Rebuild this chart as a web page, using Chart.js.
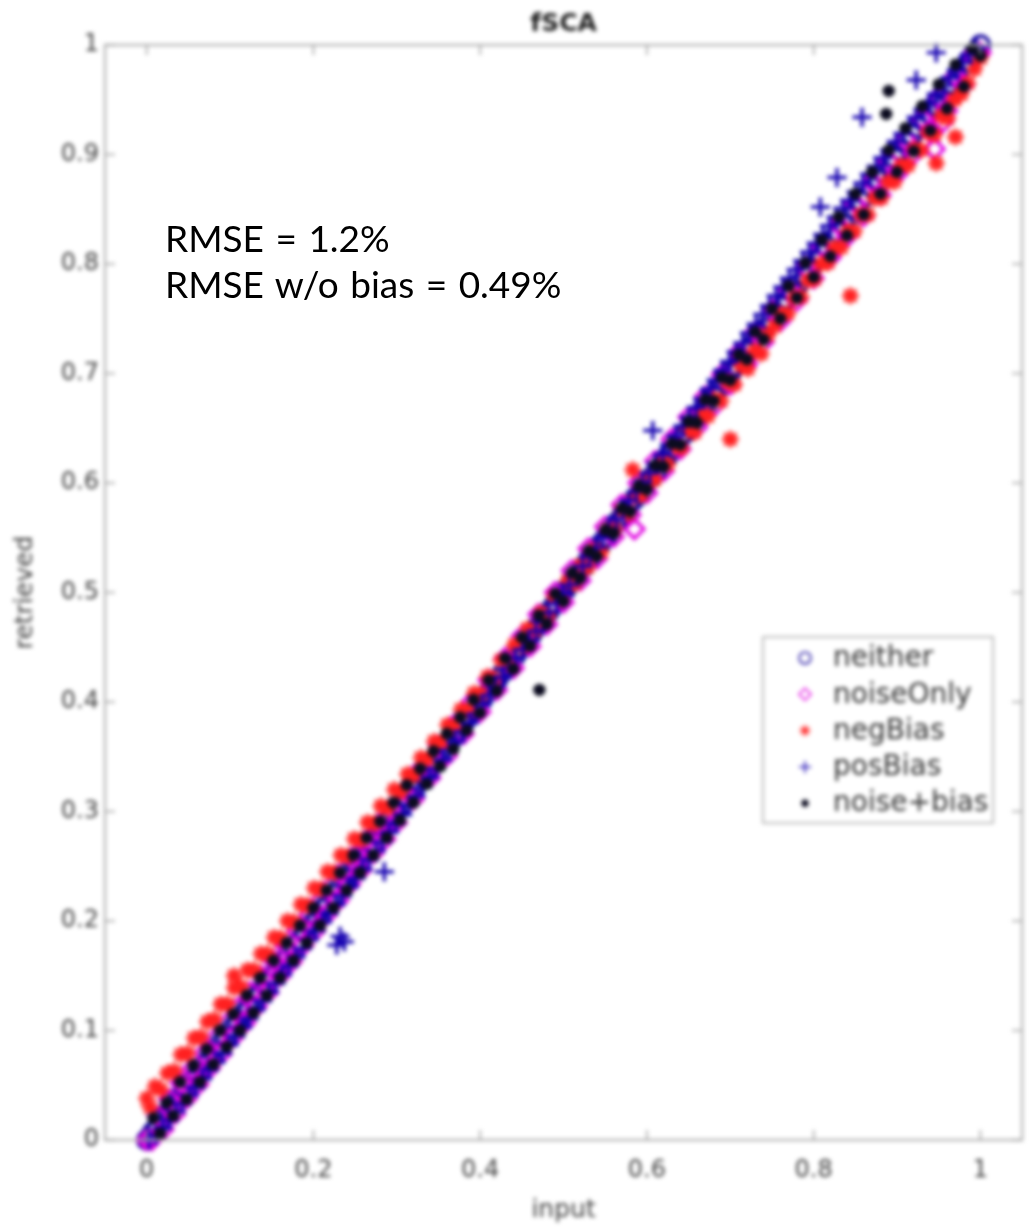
<!DOCTYPE html>
<html>
<head>
<meta charset="utf-8">
<script src="https://cdn.jsdelivr.net/npm/chart.js@4.4.1/dist/chart.umd.min.js"></script>
<style>
  html, body { margin: 0; padding: 0; background: #fff; }
  #wrap { position: relative; width: 1035px; height: 1227px; overflow: hidden; }
  #plot { display: block; filter: blur(2px); }
  #stats {
    position: absolute; left: 165px; top: 215px;
    font-family: Lato, "Open Sans", sans-serif; font-size: 37px; line-height: 46px;
    word-spacing: 2px; color: #000; white-space: nowrap;
  }
</style>
</head>
<body>
<div id="wrap">
  <canvas id="plot" width="1035" height="1227"></canvas>
  <div id="stats"></div>
</div>
<script>
// fSCA retrieval test: retrieved vs. input for five perturbation cases
const titleText = 'fSCA';
const xLabel = 'input';
const yLabel = 'retrieved';
const seriesNames = ['neither', 'noiseOnly', 'negBias', 'posBias', 'noise+bias'];
const statsLines = ['RMSE = 1.2%', 'RMSE w/o bias = 0.49%'];
const xTicks = [0, 0.2, 0.4, 0.6, 0.8, 1];
const yTicks = [0, 0.1, 0.2, 0.3, 0.4, 0.5, 0.6, 0.7, 0.8, 0.9, 1];

// [input, retrieved]
const neither = [
  [0,0],[0.007,0.007],[0.013,0.013],[0.02,0.02],[0.027,0.027],[0.034,0.034],[0.041,0.041],[0.047,0.047],
  [0.054,0.054],[0.061,0.061],[0.068,0.068],[0.075,0.075],[0.081,0.081],[0.088,0.088],[0.095,0.095],
  [0.102,0.102],[0.109,0.109],[0.115,0.115],[0.122,0.122],[0.129,0.129],[0.136,0.136],[0.143,0.143],
  [0.149,0.149],[0.156,0.156],[0.163,0.163],[0.17,0.17],[0.177,0.177],[0.183,0.183],[0.19,0.19],
  [0.197,0.197],[0.204,0.204],[0.211,0.211],[0.217,0.217],[0.224,0.224],[0.231,0.231],[0.238,0.238],
  [0.245,0.245],[0.251,0.251],[0.258,0.258],[0.265,0.265],[0.272,0.272],[0.279,0.279],[0.285,0.285],
  [0.292,0.292],[0.299,0.299],[0.306,0.306],[0.313,0.313],[0.319,0.319],[0.326,0.326],[0.333,0.333],
  [0.34,0.34],[0.347,0.347],[0.353,0.353],[0.36,0.36],[0.367,0.367],[0.374,0.374],[0.381,0.381],
  [0.387,0.387],[0.394,0.394],[0.401,0.401],[0.408,0.408],[0.415,0.415],[0.421,0.421],[0.428,0.428],
  [0.435,0.435],[0.442,0.442],[0.449,0.449],[0.455,0.455],[0.462,0.462],[0.469,0.469],[0.476,0.476],
  [0.483,0.483],[0.489,0.489],[0.496,0.496],[0.503,0.503],[0.51,0.51],[0.517,0.517],[0.523,0.523],
  [0.53,0.53],[0.537,0.537],[0.544,0.544],[0.551,0.551],[0.557,0.557],[0.564,0.564],[0.571,0.571],
  [0.578,0.578],[0.585,0.585],[0.591,0.591],[0.598,0.598],[0.605,0.605],[0.612,0.612],[0.619,0.619],
  [0.625,0.625],[0.632,0.632],[0.639,0.639],[0.646,0.646],[0.653,0.653],[0.659,0.659],[0.666,0.666],
  [0.673,0.673],[0.68,0.68],[0.687,0.687],[0.693,0.693],[0.7,0.7],[0.707,0.707],[0.714,0.714],
  [0.721,0.721],[0.727,0.727],[0.734,0.734],[0.741,0.741],[0.748,0.748],[0.755,0.755],[0.761,0.761],
  [0.768,0.768],[0.775,0.775],[0.782,0.782],[0.789,0.789],[0.795,0.795],[0.802,0.802],[0.809,0.809],
  [0.816,0.816],[0.823,0.823],[0.829,0.829],[0.836,0.836],[0.843,0.843],[0.85,0.85],[0.857,0.857],
  [0.863,0.863],[0.87,0.87],[0.877,0.877],[0.884,0.884],[0.891,0.891],[0.897,0.897],[0.904,0.904],
  [0.911,0.911],[0.918,0.918],[0.925,0.925],[0.931,0.931],[0.938,0.938],[0.945,0.945],[0.952,0.952],
  [0.959,0.959],[0.965,0.965],[0.972,0.972],[0.979,0.979],[0.986,0.986],[0.993,0.993],[1,1]
];
const noiseOnly = [
  [0,0],[0.006,0],[0.013,0.022],[0.02,0.01],[0.027,0.037],[0.034,0.024],[0.041,0.052],[0.048,0.038],
  [0.055,0.065],[0.062,0.051],[0.069,0.079],[0.076,0.066],[0.083,0.093],[0.09,0.079],[0.097,0.107],
  [0.104,0.094],[0.111,0.121],[0.118,0.107],[0.125,0.135],[0.132,0.122],[0.139,0.149],[0.146,0.135],
  [0.153,0.163],[0.16,0.15],[0.167,0.177],[0.174,0.163],[0.181,0.191],[0.188,0.178],[0.195,0.205],
  [0.202,0.191],[0.209,0.219],[0.216,0.206],[0.223,0.233],[0.23,0.219],[0.237,0.247],[0.244,0.234],
  [0.251,0.261],[0.258,0.247],[0.265,0.275],[0.272,0.262],[0.279,0.289],[0.286,0.275],[0.293,0.303],
  [0.3,0.29],[0.31,0.32],[0.32,0.311],[0.33,0.34],[0.34,0.331],[0.35,0.36],[0.36,0.351],
  [0.37,0.38],[0.38,0.371],[0.39,0.4],[0.4,0.391],[0.41,0.42],[0.42,0.411],[0.43,0.44],
  [0.44,0.431],[0.45,0.46],[0.46,0.451],[0.47,0.48],[0.48,0.471],[0.49,0.5],[0.5,0.491],
  [0.51,0.52],[0.52,0.511],[0.53,0.54],[0.54,0.531],[0.55,0.56],[0.56,0.551],[0.57,0.58],
  [0.58,0.571],[0.585,0.558],[0.59,0.6],[0.6,0.591],[0.61,0.62],[0.62,0.611],[0.63,0.64],
  [0.64,0.631],[0.65,0.66],[0.66,0.651],[0.67,0.679],[0.68,0.67],[0.69,0.699],[0.7,0.69],
  [0.71,0.719],[0.72,0.709],[0.73,0.738],[0.74,0.729],[0.75,0.758],[0.76,0.748],[0.77,0.777],
  [0.78,0.767],[0.79,0.797],[0.8,0.787],[0.81,0.816],[0.82,0.806],[0.83,0.836],[0.84,0.825],
  [0.85,0.855],[0.86,0.844],[0.87,0.875],[0.88,0.863],[0.89,0.894],[0.9,0.882],[0.91,0.914],
  [0.92,0.901],[0.93,0.933],[0.94,0.92],[0.945,0.905],[0.95,0.952],[0.955,0.93],[0.96,0.94],
  [0.97,0.971],[0.98,0.964],[0.99,0.99],[1,0.993]
];
const negBias = [
  [0,0.038],[0.004,0.03],[0.01,0.049],[0.017,0.046],[0.025,0.061],[0.033,0.063],[0.041,0.078],[0.049,0.079],
  [0.057,0.093],[0.065,0.094],[0.073,0.108],[0.081,0.11],[0.089,0.124],[0.097,0.124],[0.105,0.15],
  [0.105,0.139],[0.113,0.14],[0.121,0.155],[0.129,0.155],[0.137,0.17],[0.145,0.17],[0.153,0.185],
  [0.161,0.184],[0.169,0.2],[0.177,0.199],[0.185,0.215],[0.193,0.214],[0.201,0.23],[0.209,0.229],
  [0.217,0.245],[0.225,0.244],[0.233,0.26],[0.241,0.259],[0.249,0.275],[0.257,0.274],[0.265,0.29],
  [0.273,0.289],[0.281,0.305],[0.289,0.303],[0.297,0.32],[0.305,0.318],[0.313,0.334],[0.321,0.333],
  [0.329,0.349],[0.337,0.348],[0.345,0.364],[0.353,0.363],[0.361,0.379],[0.369,0.377],[0.377,0.393],
  [0.385,0.392],[0.393,0.408],[0.401,0.407],[0.409,0.423],[0.417,0.421],[0.425,0.438],[0.433,0.436],
  [0.441,0.452],[0.449,0.45],[0.457,0.467],[0.465,0.465],[0.473,0.481],[0.481,0.479],[0.489,0.496],
  [0.497,0.494],[0.505,0.51],[0.513,0.508],[0.521,0.525],[0.529,0.523],[0.537,0.539],[0.545,0.537],
  [0.553,0.557],[0.561,0.558],[0.569,0.574],[0.577,0.572],[0.583,0.612],[0.585,0.588],[0.593,0.589],
  [0.601,0.604],[0.609,0.603],[0.617,0.619],[0.625,0.617],[0.633,0.634],[0.641,0.632],[0.649,0.649],
  [0.657,0.646],[0.665,0.662],[0.673,0.661],[0.681,0.677],[0.689,0.675],[0.697,0.692],[0.7,0.64],
  [0.705,0.69],[0.713,0.707],[0.721,0.704],[0.729,0.721],[0.737,0.718],[0.745,0.735],[0.753,0.743],
  [0.761,0.754],[0.769,0.755],[0.777,0.769],[0.785,0.77],[0.793,0.785],[0.801,0.786],[0.809,0.8],
  [0.817,0.801],[0.825,0.815],[0.833,0.815],[0.841,0.83],[0.844,0.771],[0.849,0.83],[0.857,0.845],
  [0.865,0.845],[0.873,0.86],[0.881,0.86],[0.889,0.875],[0.897,0.875],[0.905,0.89],[0.913,0.89],
  [0.921,0.905],[0.929,0.904],[0.937,0.92],[0.945,0.918],[0.947,0.892],[0.953,0.935],[0.961,0.933],
  [0.969,0.95],[0.97,0.916],[0.977,0.955],[0.985,0.965],[0.993,0.978],[1,0.988]
];
const posBias = [
  [0.003,0],[0.011,0.004],[0.019,0.011],[0.027,0.018],[0.035,0.026],[0.043,0.033],[0.051,0.041],
  [0.059,0.048],[0.067,0.056],[0.075,0.064],[0.083,0.071],[0.091,0.079],[0.099,0.087],[0.107,0.095],
  [0.115,0.103],[0.123,0.111],[0.131,0.119],[0.139,0.127],[0.147,0.135],[0.155,0.143],[0.163,0.151],
  [0.171,0.159],[0.179,0.167],[0.187,0.175],[0.195,0.183],[0.203,0.191],[0.211,0.199],[0.219,0.207],
  [0.227,0.215],[0.228,0.178],[0.232,0.186],[0.237,0.181],[0.235,0.223],[0.243,0.231],[0.251,0.239],
  [0.259,0.247],[0.267,0.256],[0.275,0.264],[0.283,0.272],[0.285,0.245],[0.291,0.281],[0.299,0.289],
  [0.307,0.297],[0.315,0.306],[0.323,0.314],[0.331,0.322],[0.339,0.331],[0.347,0.339],[0.355,0.347],
  [0.363,0.356],[0.371,0.364],[0.379,0.373],[0.387,0.381],[0.395,0.389],[0.403,0.398],[0.411,0.406],
  [0.419,0.414],[0.427,0.423],[0.435,0.431],[0.443,0.44],[0.451,0.448],[0.459,0.456],[0.467,0.465],
  [0.475,0.473],[0.483,0.482],[0.491,0.49],[0.499,0.499],[0.507,0.507],[0.515,0.516],[0.523,0.524],
  [0.531,0.533],[0.539,0.541],[0.547,0.55],[0.555,0.558],[0.563,0.567],[0.571,0.575],[0.579,0.584],
  [0.587,0.592],[0.595,0.601],[0.603,0.609],[0.607,0.648],[0.611,0.618],[0.619,0.626],[0.627,0.635],
  [0.635,0.643],[0.643,0.652],[0.651,0.66],[0.659,0.669],[0.667,0.677],[0.675,0.686],[0.683,0.694],
  [0.691,0.703],[0.699,0.711],[0.707,0.72],[0.715,0.728],[0.723,0.737],[0.731,0.745],[0.739,0.754],
  [0.747,0.762],[0.755,0.771],[0.763,0.779],[0.771,0.787],[0.779,0.795],[0.787,0.803],[0.795,0.811],
  [0.803,0.819],[0.808,0.852],[0.811,0.827],[0.819,0.835],[0.827,0.843],[0.828,0.879],[0.835,0.851],
  [0.843,0.858],[0.851,0.866],[0.858,0.934],[0.859,0.874],[0.867,0.882],[0.875,0.889],[0.883,0.897],
  [0.891,0.904],[0.899,0.912],[0.907,0.919],[0.915,0.926],[0.923,0.968],[0.923,0.934],[0.931,0.941],
  [0.939,0.948],[0.947,0.993],[0.947,0.955],[0.955,0.963],[0.963,0.97],[0.971,0.977],[0.979,0.984],
  [0.987,0.991],[0.995,0.998]
];
const noiseBias = [
  [0.008,0.02],[0.016,0.006],[0.024,0.034],[0.032,0.022],[0.04,0.053],[0.048,0.037],[0.056,0.068],
  [0.064,0.053],[0.072,0.083],[0.08,0.069],[0.088,0.1],[0.096,0.085],[0.104,0.115],[0.112,0.1],
  [0.12,0.132],[0.128,0.116],[0.136,0.148],[0.144,0.132],[0.152,0.164],[0.16,0.148],[0.168,0.18],
  [0.176,0.164],[0.184,0.196],[0.192,0.18],[0.2,0.212],[0.208,0.196],[0.216,0.228],[0.224,0.212],
  [0.232,0.244],[0.24,0.228],[0.248,0.26],[0.256,0.244],[0.264,0.276],[0.272,0.26],[0.28,0.291],
  [0.288,0.276],[0.296,0.308],[0.304,0.292],[0.312,0.324],[0.32,0.308],[0.328,0.339],[0.336,0.325],
  [0.344,0.355],[0.352,0.341],[0.36,0.371],[0.368,0.357],[0.376,0.386],[0.384,0.374],[0.392,0.402],
  [0.4,0.39],[0.41,0.42],[0.42,0.41],[0.43,0.44],[0.44,0.43],[0.45,0.459],[0.46,0.451],[0.471,0.411],
  [0.47,0.479],[0.48,0.471],[0.49,0.499],[0.5,0.492],[0.51,0.518],[0.52,0.513],[0.53,0.538],
  [0.54,0.533],[0.55,0.557],[0.56,0.554],[0.57,0.577],[0.58,0.574],[0.59,0.597],[0.6,0.594],
  [0.61,0.616],[0.62,0.615],[0.63,0.636],[0.64,0.635],[0.65,0.656],[0.66,0.655],[0.67,0.676],
  [0.68,0.675],[0.69,0.696],[0.7,0.694],[0.71,0.717],[0.72,0.713],[0.73,0.738],[0.74,0.731],
  [0.75,0.759],[0.76,0.75],[0.77,0.78],[0.78,0.769],[0.79,0.801],[0.8,0.788],[0.81,0.822],[0.82,0.807],
  [0.83,0.843],[0.84,0.826],[0.85,0.864],[0.86,0.845],[0.87,0.884],[0.88,0.864],[0.887,0.937],
  [0.89,0.958],[0.89,0.904],[0.9,0.884],[0.91,0.924],[0.92,0.903],[0.93,0.944],[0.94,0.922],
  [0.95,0.964],[0.96,0.942],[0.97,0.982],[0.98,0.962],[0.99,0.997],[1,0.99]
];

const toXY = pts => pts.map(([x, y]) => ({ x, y }));

const seriesData = [neither, noiseOnly, negBias, posBias, noiseBias];
const seriesStyle = [
  { pointStyle: 'circle',  pointRadius: 9,   borderColor: '#10009a', backgroundColor: 'rgba(0,0,0,0)', order: 5 },
  { pointStyle: 'rectRot', pointRadius: 9.5, borderColor: '#e000e0', backgroundColor: 'rgba(0,0,0,0)', order: 4 },
  { pointStyle: 'star',    pointRadius: 8.5, borderColor: '#ff2020', backgroundColor: 'rgba(0,0,0,0)', order: 3 },
  { pointStyle: 'cross',   pointRadius: 9.5, borderColor: '#1400b0', backgroundColor: 'rgba(0,0,0,0)', order: 2 },
  { pointStyle: 'circle',  pointRadius: 4.5, borderColor: '#0c0c20', backgroundColor: '#0c0c20', order: 1 }
];

const datasets = seriesNames.map((name, i) => ({
  label: name,
  data: toXY(seriesData[i]),
  pointStyle: seriesStyle[i].pointStyle,
  pointRadius: seriesStyle[i].pointRadius,
  pointBorderWidth: 3.4,
  borderColor: seriesStyle[i].borderColor,
  backgroundColor: seriesStyle[i].backgroundColor,
  order: seriesStyle[i].order,
  showLine: false,
  clip: false
}));

const fmt = v => String(+Number(v).toFixed(2));

// Box, inward tick marks, title and legend in the MATLAB axes style
const axesDecor = {
  id: 'axesDecor',
  afterDatasetsDraw(chart) {
    const { ctx, chartArea: a, scales } = chart;
    ctx.save();
    ctx.strokeStyle = '#b0b0b0';
    ctx.lineWidth = 2.2;
    ctx.strokeRect(a.left, a.top, a.right - a.left, a.bottom - a.top);

    ctx.strokeStyle = '#9a9a9a';
    ctx.lineWidth = 1.5;
    const tl = 10;
    ctx.beginPath();
    xTicks.forEach(v => {
      const px = scales.x.getPixelForValue(v);
      ctx.moveTo(px, a.bottom); ctx.lineTo(px, a.bottom - tl);
      ctx.moveTo(px, a.top); ctx.lineTo(px, a.top + tl);
    });
    yTicks.forEach(v => {
      const py = scales.y.getPixelForValue(v);
      ctx.moveTo(a.left, py); ctx.lineTo(a.left + tl, py);
      ctx.moveTo(a.right, py); ctx.lineTo(a.right - tl, py);
    });
    ctx.stroke();

    // title
    ctx.fillStyle = '#1e1e1e';
    ctx.font = 'bold 25px "DejaVu Sans"';
    ctx.textAlign = 'center';
    ctx.textBaseline = 'middle';
    ctx.fillText(titleText, (a.left + a.right) / 2, 24);

    // legend
    const box = { x: 763, y: 637, w: 230, h: 186 };
    ctx.fillStyle = '#fff';
    ctx.fillRect(box.x, box.y, box.w, box.h);
    ctx.strokeStyle = '#bcbcbc';
    ctx.lineWidth = 2;
    ctx.strokeRect(box.x, box.y, box.w, box.h);
    ctx.font = '28px "DejaVu Sans"';
    ctx.textAlign = 'left';
    chart.data.datasets.forEach((ds, i) => {
      const cy = 658 + i * 36.3;
      ctx.strokeStyle = ds.borderColor;
      ctx.fillStyle = ds.backgroundColor;
      ctx.lineWidth = 1.5;
      Chart.helpers.drawPoint(ctx, {
        pointStyle: ds.pointStyle, radius: Math.min(ds.pointRadius * 0.65, 6), borderWidth: 1.5, rotation: 0
      }, 805, cy);
      ctx.fillStyle = '#333';
      ctx.fillText(ds.label, 833, cy + 1);
    });
    ctx.restore();
  }
};

const tickFont = { family: 'DejaVu Sans', size: 24 };

new Chart(document.getElementById('plot'), {
  type: 'scatter',
  data: { datasets },
  options: {
    responsive: false,
    animation: false,
    events: [],
    layout: { padding: { top: 45, right: 4, left: 0, bottom: 0 } },
    plugins: { legend: { display: false }, tooltip: { enabled: false }, title: { display: false } },
    scales: {
      x: {
        type: 'linear', min: -0.05, max: 1.05,
        afterBuildTicks: s => { s.ticks = xTicks.map(v => ({ value: v })); },
        afterFit: s => { s.height = 87; },
        grid: { display: false, drawTicks: false },
        border: { display: false },
        ticks: { font: tickFont, color: '#404040', padding: 16, maxRotation: 0, callback: fmt },
        title: { display: true, text: xLabel, font: { family: 'DejaVu Sans', size: 25 }, color: '#404040', padding: { top: 0, bottom: 2 } }
      },
      y: {
        type: 'linear', min: 0, max: 1,
        afterBuildTicks: s => { s.ticks = yTicks.map(v => ({ value: v })); },
        afterFit: s => { s.width = 105; },
        grid: { display: false, drawTicks: false },
        border: { display: false },
        ticks: { font: tickFont, color: '#404040', padding: 6, callback: fmt },
        title: { display: true, text: yLabel, font: { family: 'DejaVu Sans', size: 25 }, color: '#404040', padding: { top: 10, bottom: 0 } }
      }
    }
  },
  plugins: [axesDecor]
});

document.getElementById('stats').innerHTML = statsLines.map(t => '<div>' + t + '</div>').join('');
</script>
</body>
</html>
